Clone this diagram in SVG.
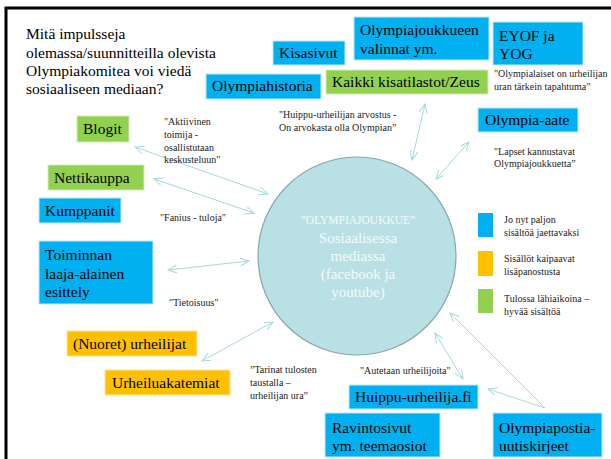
<svg xmlns="http://www.w3.org/2000/svg" width="611" height="459" viewBox="0 0 611 459">
<style>
.bg{fill:#ffffff}
.frame{stroke:#000;stroke-width:3;fill:none}
.blue{fill:#00b0f0;stroke:#c4e6f2;stroke-width:1}
.green{fill:#92d050;stroke:#d2ebc0;stroke-width:1}
.orange{fill:#ffc000;stroke:#ffe6a0;stroke-width:1}
.bt{font-family:'Liberation Serif','Times New Roman',serif;font-size:15.5px;fill:#000}
.title{font-family:'Liberation Serif','Times New Roman',serif;font-size:15.5px;fill:#000}
.sm{font-family:'Liberation Serif','Times New Roman',serif;font-size:10px;fill:#222}
.ct{font-family:'Liberation Serif','Times New Roman',serif;font-size:15px;fill:#f4fbfb;text-anchor:middle}
.ctq{font-family:'Liberation Serif','Times New Roman',serif;font-size:11.5px;fill:#f4fbfb;text-anchor:middle}
.conn{stroke:#a8d9de;stroke-width:1;fill:none}
</style>
<defs>
<marker id="ah" markerUnits="userSpaceOnUse" markerWidth="12" markerHeight="10" refX="9" refY="4" orient="auto-start-reverse">
<path d="M0,0 L9,4 L0,8" fill="none" stroke="#a8d9de" stroke-width="1"/>
</marker>
</defs>
<rect class="bg" x="0" y="0" width="611" height="459"/>
<path class="frame" d="M6,459 L6,8 L611,8"/>

<g id="title">
<text class="title" x="26" y="39">Mitä impulsseja</text>
<text class="title" x="26" y="57.5">olemassa/suunnitteilla olevista</text>
<text class="title" x="26" y="75.5">Olympiakomitea voi viedä</text>
<text class="title" x="26" y="93.5">sosiaaliseen mediaan?</text>
</g>

<g id="connectors">
<line class="conn" x1="135" y1="147" x2="268" y2="194" marker-start="url(#ah)" marker-end="url(#ah)"/>
<line class="conn" x1="154" y1="179" x2="254" y2="213" marker-start="url(#ah)" marker-end="url(#ah)"/>
<line class="conn" x1="168" y1="270" x2="249" y2="261" marker-start="url(#ah)" marker-end="url(#ah)"/>
<line class="conn" x1="202" y1="361" x2="273" y2="322" marker-start="url(#ah)" marker-end="url(#ah)"/>
<line class="conn" x1="435" y1="333" x2="463" y2="379" marker-start="url(#ah)" marker-end="url(#ah)"/>
<line class="conn" x1="545" y1="408" x2="488" y2="389" marker-end="url(#ah)"/>
<line class="conn" x1="545" y1="408" x2="450" y2="313" marker-end="url(#ah)"/>
<line class="conn" x1="425" y1="104" x2="412" y2="160" marker-start="url(#ah)" marker-end="url(#ah)"/>
<line class="conn" x1="469" y1="142" x2="436" y2="179" marker-start="url(#ah)" marker-end="url(#ah)"/>
</g>

<g id="center">
<circle cx="357" cy="256" r="99" fill="#b9e0e4" stroke="#86a7ab" stroke-width="1.2"/>
<text class="ctq" x="358" y="224">”OLYMPIAJOUKKUE”</text>
<text class="ct" x="358" y="243">Sosiaalisessa</text>
<text class="ct" x="358" y="261">mediassa</text>
<text class="ct" x="358" y="279">(facebook ja</text>
<text class="ct" x="358" y="297">youtube)</text>
</g>

<g id="kisasivut"><rect class="blue" x="273" y="41" width="72" height="24"/><text class="bt" x="279" y="58">Kisasivut</text></g>
<g id="olympiahistoria"><rect class="blue" x="206" y="74" width="115" height="25"/><text class="bt" x="212" y="91">Olympiahistoria</text></g>
<g id="valinnat"><rect class="blue" x="354" y="17" width="135" height="43"/><text class="bt" x="360" y="35">Olympiajoukkueen</text><text class="bt" x="360" y="54">valinnat ym.</text></g>
<g id="eyof"><rect class="blue" x="493" y="22" width="90" height="43"/><text class="bt" x="499" y="41">EYOF ja</text><text class="bt" x="499" y="59">YOG</text></g>
<g id="kisatilastot"><rect class="green" x="326" y="70" width="162" height="24"/><text class="bt" x="332" y="87">Kaikki kisatilastot/Zeus</text></g>
<g id="olympia-aate"><rect class="blue" x="478" y="108" width="100" height="24"/><text class="bt" x="485" y="125">Olympia-aate</text></g>
<g id="blogit"><rect class="green" x="77" y="116" width="52" height="26"/><text class="bt" x="83" y="134">Blogit</text></g>
<g id="nettikauppa"><rect class="green" x="48" y="165" width="96" height="25"/><text class="bt" x="54" y="183">Nettikauppa</text></g>
<g id="kumppanit"><rect class="blue" x="39" y="198" width="82" height="25"/><text class="bt" x="45" y="216">Kumppanit</text></g>
<g id="toiminnan"><rect class="blue" x="39" y="241" width="114" height="63"/><text class="bt" x="45" y="260">Toiminnan</text><text class="bt" x="45" y="279">laaja-alainen</text><text class="bt" x="45" y="297">esittely</text></g>
<g id="nuoret"><rect class="orange" x="67" y="331" width="130" height="25"/><text class="bt" x="73" y="349">(Nuoret) urheilijat</text></g>
<g id="urheiluakatemiat"><rect class="orange" x="105" y="370" width="125" height="25"/><text class="bt" x="112" y="388">Urheiluakatemiat</text></g>
<g id="huippu-urheilija"><rect class="blue" x="349" y="385" width="129" height="24"/><text class="bt" x="355" y="402">Huippu-urheilija.fi</text></g>
<g id="ravintosivut"><rect class="blue" x="325" y="413" width="115" height="44"/><text class="bt" x="332" y="433">Ravintosivut</text><text class="bt" x="332" y="451">ym. teemaosiot</text></g>
<g id="olympiapostia"><rect class="blue" x="493" y="413" width="109" height="44"/><text class="bt" x="499" y="433">Olympiapostia-</text><text class="bt" x="499" y="451">uutiskirjeet</text></g>

<g id="quotes">
<text class="sm" x="494" y="77">"Olympialaiset on urheilijan</text>
<text class="sm" x="494" y="90">uran tärkein tapahtuma”</text>
<text class="sm" x="279" y="118">"Huippu-urheilijan arvostus -</text>
<text class="sm" x="279" y="131">On arvokasta olla Olympian”</text>
<text class="sm" x="494" y="155">"Lapset kannustavat</text>
<text class="sm" x="494" y="167">Olympiajoukkuetta”</text>
<text class="sm" x="164" y="125">"Aktiivinen</text>
<text class="sm" x="164" y="138">toimija -</text>
<text class="sm" x="164" y="150.5">osallistutaan</text>
<text class="sm" x="164" y="163">keskusteluun"</text>
<text class="sm" x="160" y="221">"Fanius - tuloja"</text>
<text class="sm" x="169" y="306">"Tietoisuus"</text>
<text class="sm" x="250" y="373">”Tarinat tulosten</text>
<text class="sm" x="250" y="386">taustalla –</text>
<text class="sm" x="250" y="399">urheilijan ura”</text>
<text class="sm" x="360" y="374">"Autetaan urheilijoita"</text>
</g>

<g id="legend">
<rect x="478" y="213" width="15" height="24" fill="#00b0f0"/>
<text class="sm" x="504" y="223">Jo nyt paljon</text>
<text class="sm" x="504" y="236">sisältöä jaettavaksi</text>
<rect x="478" y="251" width="15" height="25" fill="#ffc000"/>
<text class="sm" x="504" y="262">Sisällöt kaipaavat</text>
<text class="sm" x="504" y="275">lisäpanostusta</text>
<rect x="478" y="289" width="15" height="24" fill="#92d050"/>
<text class="sm" x="504" y="302">Tulossa lähiaikoina –</text>
<text class="sm" x="504" y="315">hyvää sisältöä</text>
</g>
</svg>
